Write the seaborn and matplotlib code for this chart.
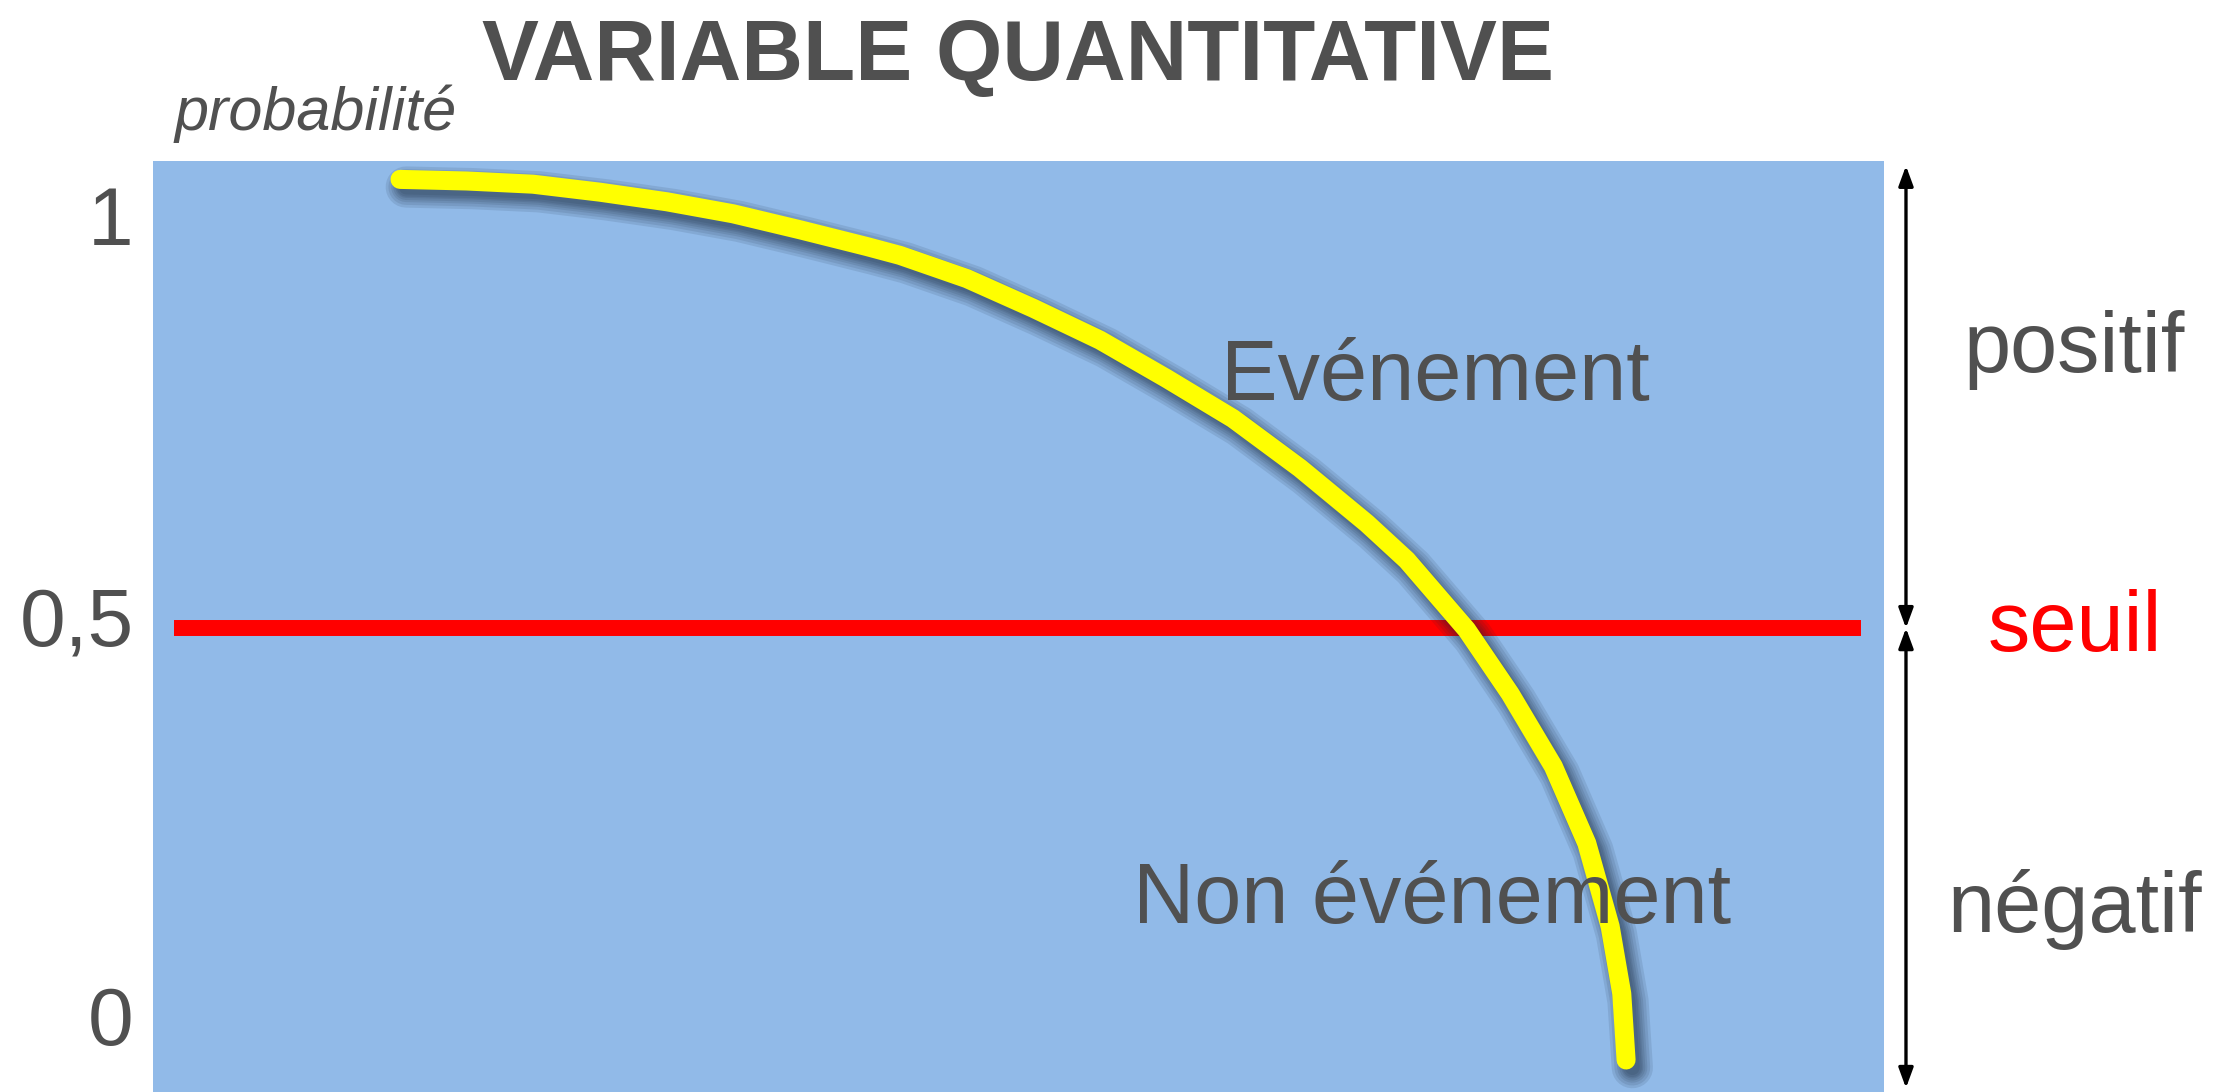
import matplotlib
matplotlib.use('Agg')
import matplotlib.pyplot as plt
import matplotlib.patheffects as pe
import matplotlib.transforms as mtransforms
import seaborn as sns

# curve (x in % of the box width, y = probability)
courbe_x = [14.27, 18.12, 21.95, 25.82, 29.69, 33.51, 37.38, 41.25, 43.15,
            47.01, 50.84, 54.71, 58.56, 62.39, 66.26, 70.12, 72.43, 75.89,
            78.40, 80.90, 82.83, 84.18, 84.85, 85.10]
courbe_p = [1.061, 1.059, 1.055, 1.045, 1.033, 1.018, 0.998, 0.977, 0.966,
            0.937, 0.900, 0.860, 0.812, 0.762, 0.700, 0.631, 0.585, 0.498,
            0.418, 0.327, 0.231, 0.127, 0.043, -0.040]

# threshold line
seuil = 0.5
seuil_x = [1.2, 98.7]

# y ticks
ticks_p = [0, 0.5, 1]
ticks_lab = ['0', '0,5', '1']

gris = '#505050'
bleu = '#91bae8'

sns.set_style('white')
plt.rcParams['font.family'] = ['Liberation Sans', 'DejaVu Sans']

fig = plt.figure(figsize=(22.29, 10.92), dpi=100)
ax = fig.add_axes([153 / 2229, 0, 1731 / 2229, 931 / 1092])
ax.set_facecolor(bleu)
for s in ax.spines.values():
    s.set_visible(False)

# red threshold line
sns.lineplot(x=seuil_x, y=[seuil, seuil], color='#ff0000', linewidth=11.5, ax=ax)
ax.lines[-1].set_solid_capstyle('butt')

# yellow curve with soft shadow
lw = 13.7
ombre = [pe.Stroke(linewidth=lw + k, foreground='#16253a', alpha=0.11, offset=(4.5, -5.5))
         for k in (16, 12, 8, 5, 2, 0, -3)]
sns.lineplot(x=courbe_x, y=courbe_p, sort=False, color='#ffff00', linewidth=lw, ax=ax)
ligne = ax.lines[-1]
ligne.set_solid_capstyle('round')
ligne.set_solid_joinstyle('round')
ligne.set_path_effects(ombre + [pe.Normal()])

ax.set_xlim(0, 100)
ax.set_ylim(-0.08, 1.084)
ax.set_xticks([])
ax.set_yticks(ticks_p)
ax.set_yticklabels(ticks_lab)
ax.tick_params(axis='y', length=0, pad=14, labelsize=59, labelcolor=gris)
decal = mtransforms.ScaledTranslation(0, 9 / 72, fig.dpi_scale_trans)
for lab in ax.get_yticklabels():
    lab.set_transform(lab.get_transform() + decal)
ax.set_xlabel('')
ax.set_ylabel('')

# labels inside the box
ax.text(74.06, 0.785, 'Evénement', fontsize=61, color=gris, ha='center', va='baseline')
ax.text(73.9, 0.131, 'Non événement', fontsize=61, color=gris, ha='center', va='baseline')

# right side: arrows and labels
trans = mtransforms.blended_transform_factory(ax.transAxes, ax.transData)
fleche = dict(arrowstyle='<|-|>,head_length=0.6,head_width=0.22', color='black',
              lw=2.4, shrinkA=0, shrinkB=0, mutation_scale=20)
ax.annotate('', xy=(1.0127, 1.078), xytext=(1.0127, seuil), xycoords=trans,
            textcoords=trans, arrowprops=fleche, annotation_clip=False)
ax.annotate('', xy=(1.0127, seuil), xytext=(1.0127, -0.075), xycoords=trans,
            textcoords=trans, arrowprops=fleche, annotation_clip=False)
ax.text(1.110, 0.82, 'positif', transform=trans, fontsize=61, color=gris,
        ha='center', va='baseline')
ax.text(1.110, 0.471, 'seuil', transform=trans, fontsize=61, color='#ff0000',
        ha='center', va='baseline')
ax.text(1.110, 0.12, 'négatif', transform=trans, fontsize=61, color=gris,
        ha='center', va='baseline')

# title and axis name
fig.text(1018 / 2229, 1 - 80 / 1092, 'VARIABLE QUANTITATIVE', fontsize=61.5,
         fontweight='bold', color=gris, ha='center', va='baseline')
fig.text(316 / 2229, 1 - 130 / 1092, 'probabilité', fontsize=44, style='italic',
         color=gris, ha='center', va='baseline')

fig.savefig('out.png', dpi=100, facecolor='white')
